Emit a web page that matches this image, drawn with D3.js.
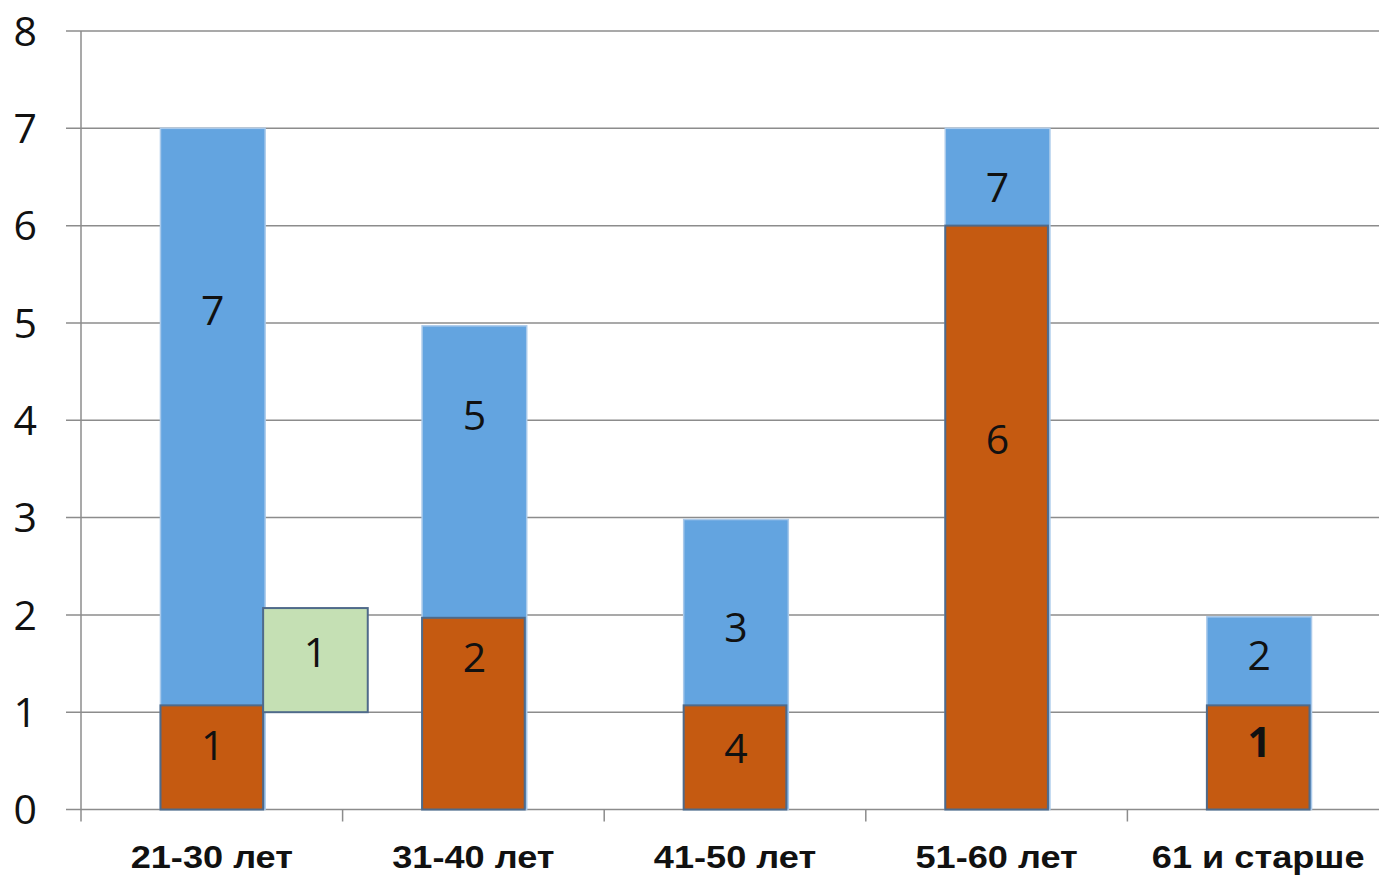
<!DOCTYPE html>
<html lang="ru">
  <head>
    <meta charset="UTF-8" />
    <title>Возраст</title>
    <script src="https://d3js.org/d3.v7.min.js"></script>
    <style>
      html, body { margin: 0; padding: 0; background: #fff; }
      .num { font-family: "Open Sans", sans-serif; font-size: 41px; fill: #111; }
      .xlab { font-family: "Liberation Sans", Arial, sans-serif; font-weight: bold; font-size: 32px; fill: #111; }
    </style>
  </head>
  <body>
    <div id="chart"></div>
    <script>
      // data
      const categories = ["21-30 лет", "31-40 лет", "41-50 лет", "51-60 лет", "61 и старше"];
      const blueValues = [7, 4.97, 2.98, 7, 1.98];
      const blueLabels = ["7", "5", "3", "7", "2"];
      const blueLabelAt = [5.13, 4.05, 1.87, 6.39, 1.59];
      const orangeValues = [1.07, 1.97, 1.07, 6, 1.07];
      const orangeLabels = ["1", "2", "4", "6", "1"];
      const orangeLabelAt = [0.66, 1.56, 0.63, 3.8, 0.69];
      const greenBox = { category: "21-30 лет", from: 1, to: 2.07, label: "1", labelAt: 1.62 };
      const yTicks = [0, 1, 2, 3, 4, 5, 6, 7, 8];

      const width = 1379, height = 875;

      const svg = d3.select("#chart").append("svg")
        .attr("width", width).attr("height", height);

      const x = d3.scaleBand().domain(categories).range([81, 1389]);
      const y = d3.scaleLinear().domain([0, 8]).range([809.5, 31]);
      const barW = x.bandwidth() * 0.4;
      const barX = (c) => x(c) + (x.bandwidth() - barW) / 2 + 1;
      const mid = (c) => barX(c) + barW / 2;

      // gridlines
      svg.append("g")
        .selectAll("line")
        .data(yTicks)
        .join("line")
        .attr("x1", 66).attr("x2", width)
        .attr("y1", (d) => y(d)).attr("y2", (d) => y(d))
        .attr("stroke", "#8c8c8c").attr("stroke-width", 1.5);

      // y axis line
      svg.append("line")
        .attr("x1", 81).attr("x2", 81)
        .attr("y1", y(8)).attr("y2", y(0))
        .attr("stroke", "#8c8c8c").attr("stroke-width", 1.5);

      // x tick marks at band edges
      svg.append("g")
        .selectAll("line")
        .data(categories)
        .join("line")
        .attr("x1", (d) => x(d)).attr("x2", (d) => x(d))
        .attr("y1", y(0)).attr("y2", y(0) + 12)
        .attr("stroke", "#8c8c8c").attr("stroke-width", 1.5);

      // y tick labels
      svg.append("g")
        .selectAll("text")
        .data(yTicks)
        .join("text")
        .attr("class", "num")
        .attr("x", 37)
        .attr("y", (d) => y(d))
        .attr("dy", "0.36em")
        .attr("text-anchor", "end")
        .text((d) => d);

      // blue bars
      svg.append("g")
        .selectAll("rect")
        .data(categories)
        .join("rect")
        .attr("x", (d) => barX(d))
        .attr("y", (d, i) => y(blueValues[i]))
        .attr("width", barW)
        .attr("height", (d, i) => y(0) - y(blueValues[i]))
        .attr("fill", "#63a4e0")
        .attr("stroke", "#a9c9ea").attr("stroke-width", 1.5);

      // orange bars drawn over the blue ones
      svg.append("g")
        .selectAll("rect")
        .data(categories)
        .join("rect")
        .attr("x", (d) => barX(d))
        .attr("y", (d, i) => y(orangeValues[i]))
        .attr("width", barW - 2)
        .attr("height", (d, i) => y(0) - y(orangeValues[i]))
        .attr("fill", "#c55a11")
        .attr("stroke", "#4f6a8a").attr("stroke-width", 2);

      // green box next to the first bar
      svg.append("rect")
        .attr("x", barX(greenBox.category) + barW - 2)
        .attr("y", y(greenBox.to))
        .attr("width", barW)
        .attr("height", y(greenBox.from) - y(greenBox.to))
        .attr("fill", "#c5e0b4")
        .attr("stroke", "#4f6a8a").attr("stroke-width", 2);

      // value labels
      svg.append("g")
        .selectAll("text")
        .data(categories)
        .join("text")
        .attr("class", "num")
        .attr("x", (d) => mid(d))
        .attr("y", (d, i) => y(blueLabelAt[i]))
        .attr("dy", "0.36em")
        .attr("text-anchor", "middle")
        .text((d, i) => blueLabels[i]);

      svg.append("g")
        .selectAll("text")
        .data(categories)
        .join("text")
        .attr("class", "num")
        .attr("x", (d) => mid(d))
        .attr("y", (d, i) => y(orangeLabelAt[i]))
        .attr("dy", "0.36em")
        .attr("text-anchor", "middle")
        .attr("font-weight", (d, i) => (i === 4 ? "bold" : null))
        .text((d, i) => orangeLabels[i]);

      svg.append("text")
        .attr("class", "num")
        .attr("x", mid(greenBox.category) + barW - 2)
        .attr("y", y(greenBox.labelAt))
        .attr("dy", "0.36em")
        .attr("text-anchor", "middle")
        .text(greenBox.label);

      // category labels (the original is stretched a little horizontally)
      svg.append("g")
        .selectAll("text")
        .data(categories)
        .join("text")
        .attr("class", "xlab")
        .attr("transform", (d) => `translate(${x(d) + x.bandwidth() / 2},868) scale(1.13,1)`)
        .attr("text-anchor", "middle")
        .text((d) => d);
    </script>
  </body>
</html>
